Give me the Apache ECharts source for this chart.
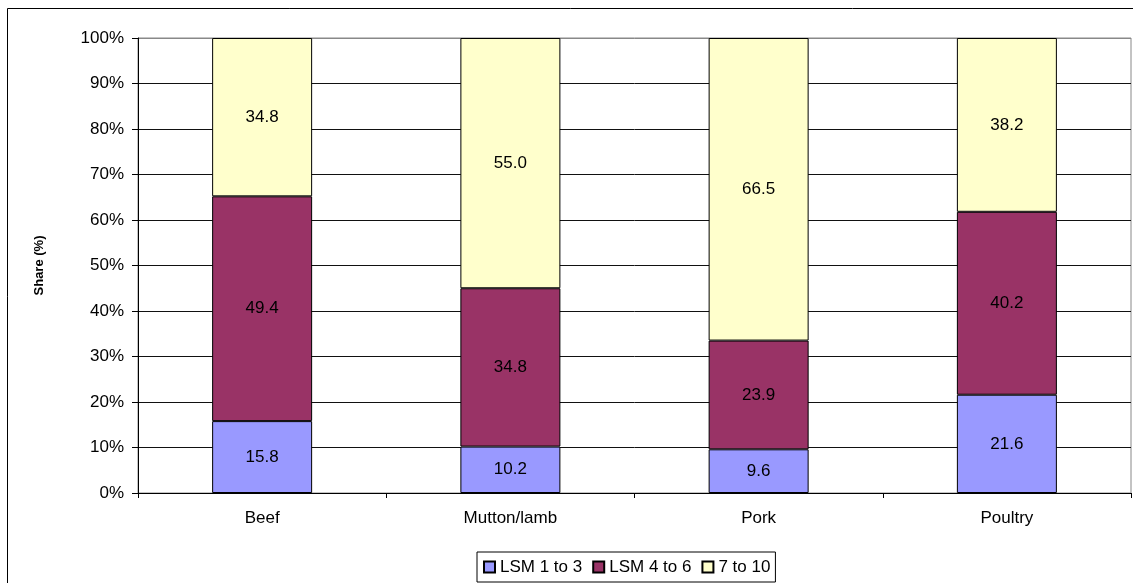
<!DOCTYPE html>
<html>
<head>
<meta charset="utf-8">
<script src="https://cdn.jsdelivr.net/npm/echarts@6/dist/echarts.min.js"></script>
<style>
html,body{margin:0;padding:0;background:#fff;}
#chart{width:1133px;height:583px;}
</style>
</head>
<body>
<div id="chart"></div>
<script>
const categories = ['Beef', 'Mutton/lamb', 'Pork', 'Poultry'];
const lsm1to3 = [15.8, 10.2, 9.6, 21.6];
const lsm4to6 = [49.4, 34.8, 23.9, 40.2];
const lsm7to10 = [34.8, 55.0, 66.5, 38.2];
const seriesNames = ['LSM 1 to 3', 'LSM 4 to 6', '7 to 10'];
const yTicks = [0, 10, 20, 30, 40, 50, 60, 70, 80, 90, 100];

const colors = ['#9999FF', '#993366', '#FFFFCC'];
const font = 'Liberation Sans, Arial, sans-serif';

const chart = echarts.init(document.getElementById('chart'), null, {renderer: 'canvas'});

function mk(name, data, color) {
  return {
    name: name,
    type: 'bar',
    stack: 'total',
    data: data,
    barWidth: 100,
    itemStyle: {color: color, borderColor: '#000', borderWidth: 1},
    label: {
      show: true,
      position: 'inside',
      color: '#000',
      fontFamily: font,
      fontSize: 17,
      formatter: p => p.value.toFixed(1)
    },
    emphasis: {disabled: true}
  };
}

const gridColors = yTicks.map((v, i) => i === yTicks.length - 1 ? '#888' : '#111');

chart.setOption({
  animation: false,
  backgroundColor: '#fff',
  color: colors,
  grid: {left: 138, right: 2, top: 38, bottom: 90, show: true, borderColor: '#888', borderWidth: 1},
  legend: {
    data: seriesNames,
    top: 552,
    left: 477,
    icon: 'rect',
    itemWidth: 11,
    itemHeight: 11,
    itemGap: 10,
    padding: [6, 5, 6, 6],
    borderColor: '#000',
    borderWidth: 1,
    textStyle: {fontFamily: font, fontSize: 17, lineHeight: 18, color: '#000'}
  },
  xAxis: {
    type: 'category',
    data: categories,
    axisLine: {lineStyle: {color: '#000'}},
    axisTick: {show: true, alignWithLabel: false, length: 5, lineStyle: {color: '#000'}},
    axisLabel: {color: '#000', fontFamily: font, fontSize: 17, margin: 17}
  },
  yAxis: {
    type: 'value',
    min: yTicks[0],
    max: yTicks[yTicks.length - 1],
    interval: 10,
    name: 'Share (%)',
    nameLocation: 'middle',
    nameGap: 92,
    nameRotate: 90,
    nameTextStyle: {fontFamily: font, fontSize: 13, fontWeight: 'bold', color: '#000'},
    axisLine: {show: true, lineStyle: {color: '#000'}},
    axisTick: {show: true, length: 6, lineStyle: {color: '#000'}},
    axisLabel: {color: '#000', fontFamily: font, fontSize: 17, margin: 14, formatter: v => v + '%'},
    splitLine: {show: true, lineStyle: {color: gridColors, width: 1}}
  },
  graphic: [{
    type: 'rect',
    shape: {x: 7.5, y: 8.5, width: 1140, height: 600},
    style: {fill: 'none', stroke: '#000', lineWidth: 1},
    silent: true,
    z: -1
  }],
  series: [
    mk(seriesNames[0], lsm1to3, colors[0]),
    mk(seriesNames[1], lsm4to6, colors[1]),
    mk(seriesNames[2], lsm7to10, colors[2])
  ]
});
</script>
</body>
</html>
